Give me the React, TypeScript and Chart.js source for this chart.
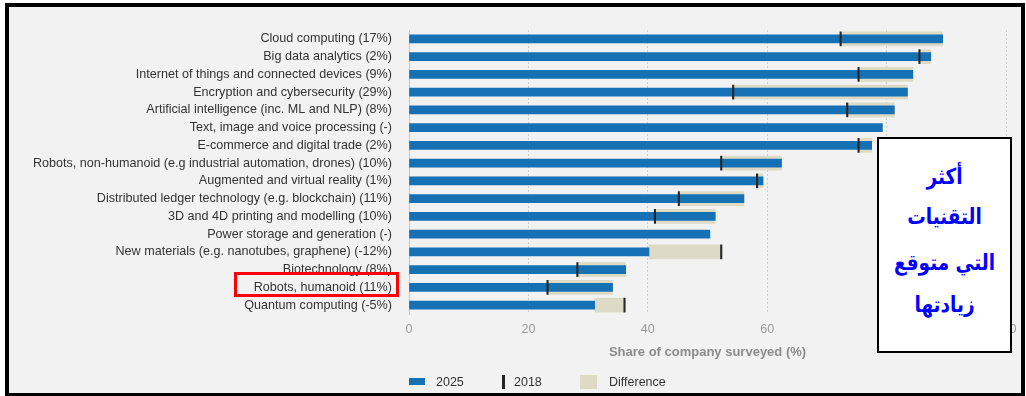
import React, { useEffect, useRef } from "react";
import { Chart, registerables } from "chart.js";

Chart.register(...registerables);

const categories = [
  "Cloud computing (17%)",
  "Big data analytics (2%)",
  "Internet of things and connected devices (9%)",
  "Encryption and cybersecurity (29%)",
  "Artificial intelligence (inc. ML and NLP) (8%)",
  "Text, image and voice processing (-)",
  "E-commerce and digital trade (2%)",
  "Robots, non-humanoid (e.g industrial automation, drones) (10%)",
  "Augmented and virtual reality (1%)",
  "Distributed ledger technology (e.g. blockchain) (11%)",
  "3D and 4D printing and modelling (10%)",
  "Power storage and generation (-)",
  "New materials (e.g. nanotubes, graphene) (-12%)",
  "Biotechnology (8%)",
  "Robots, humanoid (11%)",
  "Quantum computing (-5%)",
];

const values2025 = [89.4, 87.4, 84.4, 83.5, 81.3, 79.3, 77.5, 62.4, 59.3, 56.1, 51.3, 50.4, 40.2, 36.3, 34.1, 31.1];
const values2018: (number | null)[] = [72.3, 85.5, 75.3, 54.3, 73.4, null, 75.3, 52.3, 58.3, 45.2, 41.2, null, 52.3, 28.2, 23.2, 36.1];

const xMin = 0;
const xMax = 100;
const xStep = 20;
const axisTitle = "Share of company surveyed (%)";
const legendLabels = ["2025", "2018", "Difference"];
const noteLines = ["أكثر", "التقنيات", "التي متوقع", "زيادتها"];

const BLUE = "#1670b4";
const BEIGE = "#dddac6";
const MARK = "#262626";
const FONT = "'Liberation Sans', Arial, Helvetica, sans-serif";

export default function App() {
  const ref = useRef<HTMLCanvasElement>(null);

  useEffect(() => {
    document.body.style.margin = "0";
    const diff = values2018.map((v, i) =>
      v == null ? null : [Math.min(v, values2025[i]), Math.max(v, values2025[i])]
    );
    const marks = values2018.map((v) => (v == null ? null : [v - 0.12, v + 0.12]));

    const chart = new Chart(ref.current as HTMLCanvasElement, {
      type: "bar",
      data: {
        labels: categories,
        datasets: [
          { label: legendLabels[2], data: diff as any, backgroundColor: BEIGE, barThickness: 14, order: 3 },
          { label: legendLabels[0], data: values2025, backgroundColor: BLUE, barThickness: 8, order: 2 },
          { label: legendLabels[1], data: marks as any, backgroundColor: MARK, barThickness: 14, order: 1 },
        ],
      },
      options: {
        indexAxis: "y",
        responsive: false,
        animation: false,
        layout: { padding: { top: 30, right: 20, left: 0, bottom: 0 } },
        datasets: { bar: { grouped: false, borderSkipped: false } as any },
        plugins: { legend: { display: false }, tooltip: { enabled: false } },
        scales: {
          x: {
            min: xMin,
            max: xMax,
            grid: {
              color: (ctx: any) => (ctx.tick && ctx.tick.value === 0 ? "rgba(0,0,0,0)" : "#cdcdcd"),
              lineWidth: 1,
              drawTicks: false,
            },
            border: { display: false, dash: [2, 2] },
            ticks: { stepSize: xStep, padding: 8, color: "#9a9a9a", font: { family: FONT, size: 12.6 } },
            title: {
              display: true,
              text: axisTitle,
              color: "#8c8c8c",
              font: { family: FONT, size: 13, weight: "bold" },
              padding: { top: 0, bottom: 36 },
            },
            afterFit: (s: any) => {
              s.height = 82;
            },
          },
          y: {
            grid: { display: false, drawTicks: false },
            border: { display: true, color: "#c4c4c4" },
            ticks: { padding: 17, color: "#333333", font: { family: FONT, size: 12.6 }, autoSkip: false },
            afterFit: (s: any) => {
              s.width = 409;
            },
          },
        },
      },
    });
    return () => chart.destroy();
  }, []);

  const legendText: React.CSSProperties = {
    position: "absolute",
    top: 375,
    fontFamily: FONT,
    fontSize: 12.5,
    lineHeight: "14px",
    color: "#333",
  };

  return (
    <div style={{ position: "relative", width: 1026, height: 396, overflow: "hidden", background: "#fff" }}>
      <div
        style={{
          position: "absolute",
          left: 5,
          top: 3,
          width: 1020,
          height: 394,
          boxSizing: "border-box",
          border: "4px solid #000",
          background: "#f2f2f2",
        }}
      />
      <canvas ref={ref} width={1026} height={396} style={{ position: "absolute", left: 0, top: 0 }} />
      {/* highlight box */}
      <div
        style={{
          position: "absolute",
          left: 234,
          top: 272,
          width: 165,
          height: 25,
          boxSizing: "border-box",
          border: "3px solid #ff0000",
        }}
      />
      {/* legend */}
      <div style={{ position: "absolute", left: 409, top: 378, width: 16, height: 7, background: BLUE }} />
      <div style={{ ...legendText, left: 436 }}>{legendLabels[0]}</div>
      <div style={{ position: "absolute", left: 502, top: 375, width: 3, height: 14, background: MARK }} />
      <div style={{ ...legendText, left: 514 }}>{legendLabels[1]}</div>
      <div style={{ position: "absolute", left: 580, top: 375, width: 17, height: 14, background: BEIGE }} />
      <div style={{ ...legendText, left: 609 }}>{legendLabels[2]}</div>
      {/* Arabic note */}
      <div
        style={{
          position: "absolute",
          left: 877,
          top: 137,
          width: 135,
          height: 216,
          boxSizing: "border-box",
          border: "2px solid #000",
          background: "#fff",
          overflow: "hidden",
        }}
      >
        {noteLines.map((t, i) => (
          <div
            key={i}
            dir="rtl"
            style={{
              position: "absolute",
              left: 0,
              right: 0,
              top: [23, 63, 109, 151][i],
              height: 30,
              lineHeight: "30px",
              textAlign: "center",
              fontFamily: "'DejaVu Sans', sans-serif",
              fontWeight: "bold",
              fontSize: 22,
              color: "#0000ff",
              whiteSpace: "nowrap",
              transform: "scaleX(0.84)",
            }}
          >
            {t}
          </div>
        ))}
      </div>
    </div>
  );
}
